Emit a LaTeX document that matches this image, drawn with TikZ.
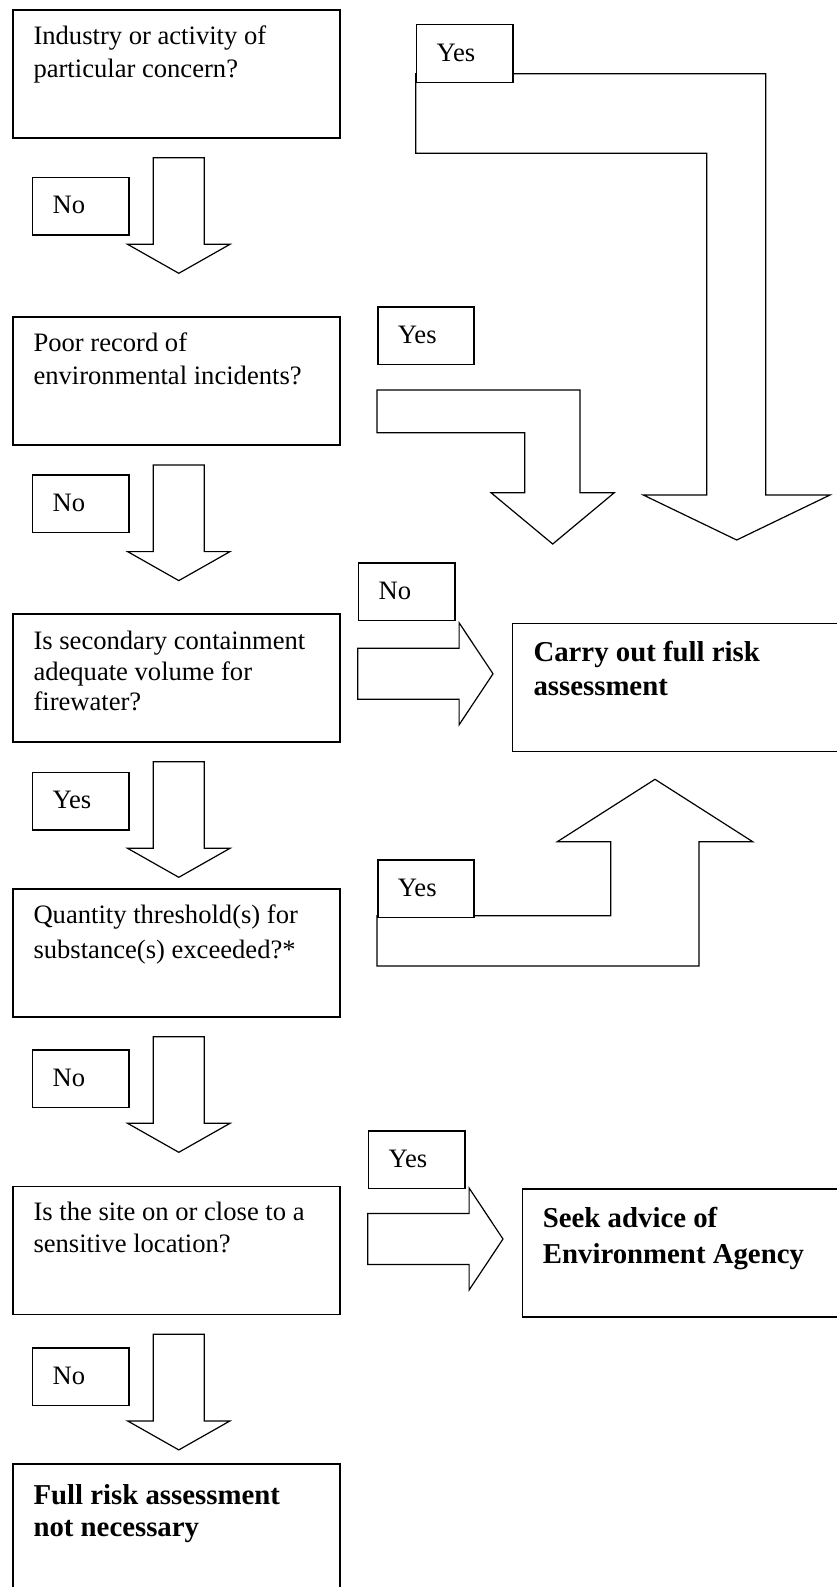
\documentclass[tikz,border=0pt]{standalone}
\usepackage{fontspec}
\setmainfont{Liberation Serif}
\usetikzlibrary{calc}
% multi-line text whose baseline is that of its first line
\newcommand\boxlines[1]{\begin{tabular}[t]{@{}l@{}}#1\end{tabular}}
\begin{document}
\begin{tikzpicture}[x=1pt,y=-1pt,
  qbox/.style={draw, line width=1.5pt, fill=white, minimum width=327pt,
    minimum height=128pt, inner sep=0pt, anchor=north west},
  lbl/.style={draw, line width=1.5pt, fill=white, minimum width=96.3pt,
    minimum height=57.5pt, inner sep=0pt, text width=56pt, align=left,
    text height=15.5pt, text depth=0pt, anchor=north west,
    font=\fontsize{26.6pt}{31pt}\selectfont},
  qtext/.style={anchor=base west, inner sep=0pt,
    font=\fontsize{26.6pt}{#1pt}\selectfont},
  btext/.style={anchor=base west, inner sep=0pt,
    font=\fontsize{28.8pt}{#1pt}\selectfont\bfseries},
  blockarrow/.style={draw, line width=1.2pt, fill=white, line join=miter},
  downarrow/.pic={
    \path[blockarrow] (-25.5,0) -- (25.5,0) -- (25.5,86.6) -- (51.2,86.6)
      -- (0,115.6) -- (-51.2,86.6) -- (-25.5,86.6) -- cycle;},
  rightarrow/.pic={
    \path[blockarrow] (0,-25.5) -- (101.4,-25.5) -- (101.4,-51) -- (135.3,0)
      -- (101.4,51) -- (101.4,25.5) -- (0,25.5) -- cycle;}
]
\useasboundingbox (0,0) rectangle (837,1587);
\fill[white] (0,0) rectangle (837,1587);
\clip (0,0) rectangle (837,1587);

% ---------- left column: questions ----------
\node[qbox] (q1) at (12.3,9.3) {};
\node[qtext=33] (q1t) at ($(q1.north west)+(21,35.7)$)
  {\boxlines{Industry or activity of\\particular concern?}};

\node[qbox] (q2) at (12.3,316) {};
\node[qtext=32.3] (q2t) at ($(q2.north west)+(21,35.7)$)
  {\boxlines{Poor record of\\environmental incidents?}};

\node[qbox] (q3) at (12.3,613.3) {};
\node[qtext=30.7] (q3t) at ($(q3.north west)+(21,36)$)
  {\boxlines{Is secondary containment\\adequate volume for\\firewater?}};

\node[qbox] (q4) at (12.3,888.3) {};
\node[qtext=35] (q4t) at ($(q4.north west)+(21,35)$)
  {\boxlines{Quantity threshold(s) for\\substance(s) exceeded?*}};

\node[qbox] (q5) at (12.3,1185.7) {};
\node[qtext=32] (q5t) at ($(q5.north west)+(21,35)$)
  {\boxlines{Is the site on or close to a\\sensitive location?}};

\node[qbox] (q6) at (12.3,1463.3) {};
\node[btext=32] (q6t) at ($(q6.north west)+(21,41.5)$)
  {\boxlines{Full risk assessment\\not necessary}};

% ---------- right column: outcomes ----------
\node[qbox] (carry) at (511.7,622.7) {};
\node[btext=34] (carryt) at ($(carry.north west)+(21.6,39)$)
  {\boxlines{Carry out full risk\\assessment}};

\node[qbox] (seek) at (521.7,1188.3) {};
\node[btext=36.5] (seekt) at ($(seek.north west)+(21,38.8)$)
  {\boxlines{Seek advice of\\Environment Agency}};

% ---------- downward "No"/"Yes" arrows between questions ----------
\pic at (178.8,157.7) {downarrow};
\node[lbl] (no1) at (31.7,176.7) {No};

\pic at (178.8,465) {downarrow};
\node[lbl] (no2) at (31.7,474.3) {No};

\pic at (178.8,761.7) {downarrow};
\node[lbl] (yes3) at (31.7,771.7) {Yes};

\pic at (178.8,1036.7) {downarrow};
\node[lbl] (no4) at (31.7,1049.3) {No};

\pic at (178.8,1334.3) {downarrow};
\node[lbl] (no5) at (31.7,1347.3) {No};

% ---------- bent arrow from question 1 ----------
\path[blockarrow] (415.7,73.7) -- (765.7,73.7) -- (765.7,495) -- (830,495)
  -- (736.7,540) -- (643.3,495) -- (706.7,495) -- (706.7,153.3)
  -- (415.7,153.3) -- cycle;
\node[lbl] (yes1) at (415.7,24) {Yes};

% ---------- bent arrow from question 2 ----------
\node[lbl] (yes2) at (377,306) {Yes};
\path[blockarrow] (377,390) -- (580,390) -- (580,492.7) -- (614.3,492.7)
  -- (552.7,544) -- (491,492.7) -- (524.7,492.7) -- (524.7,432.7)
  -- (377,432.7) -- cycle;

% ---------- question 3 to full assessment ----------
\node[lbl] (no3) at (357.7,562) {No};
\pic at (357.7,673.8) {rightarrow};

% ---------- question 4 up to full assessment ----------
\path[blockarrow] (377,966) -- (699,966) -- (699,841.7) -- (752.7,841.7)
  -- (655,779.3) -- (557.3,841.7) -- (610.7,841.7) -- (610.7,915.7)
  -- (377,915.7) -- cycle;
\node[lbl] (yes4) at (377,859) {Yes};

% ---------- question 5 to Environment Agency ----------
\node[lbl] (yes5) at (367.7,1130) {Yes};
\pic at (367.7,1239) {rightarrow};

\end{tikzpicture}
\end{document}
